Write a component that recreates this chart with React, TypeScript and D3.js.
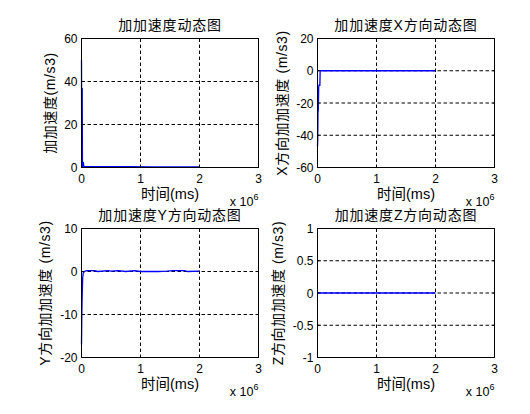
import * as d3 from 'd3';

// time axis is in units of 1e6 ms
const timeTicks = [0, 1, 2, 3];

// total jerk
const jerkT = [0, 0.004, 0.012, 0.016, 0.022, 0.03, 0.04, 0.3, 0.8, 1.2, 1.6, 2.0];
const jerkV = [50, 0, 37, 0, 2.5, 2.4, 0.5, 0.4, 0.35, 0.3, 0.3, 0.3];
const jerkTicks = [0, 20, 40, 60];

// x direction
const jerkXT = [0, 0.004, 0.008, 0.014, 0.02, 0.026, 0.04, 0.045, 1.0, 2.0];
const jerkXV = [-47, -42, -26, -24, -10, -9, -9, 0, 0, 0];
const jerkXTicks = [-60, -40, -20, 0, 20];

// y direction
const jerkYT = [0, 0.004, 0.01, 0.02, 0.03, 0.06, 0.1, 0.22, 0.28, 0.45, 0.5, 0.62, 0.75, 0.9, 1.0, 1.3, 1.45, 1.55, 1.75, 1.8, 2.0];
const jerkYV = [-17, -12, -6.5, -1.5, -0.3, 0.1, 0.2, 0.2, 0.0, 0.2, 0.1, 0.2, 0.0, 0.2, 0.0, 0.0, 0.1, 0.2, 0.2, 0.0, 0.1];
const jerkYTicks = [-20, -10, 0, 10];

// z direction
const jerkZT = [0, 1.0, 2.0];
const jerkZV = [0, 0, 0];
const jerkZTicks = [-1, -0.5, 0, 0.5, 1];

const W = 177;
const H = 129;
const FONT = "'Liberation Sans', Arial, 'Noto Sans CJK SC', sans-serif";

interface PanelProps {
  left: number;
  top: number;
  title: string;
  ylabel: string;
  yOffset: number;
  t: number[];
  v: number[];
  yTicks: number[];
}

function Panel({ left, top, title, ylabel, yOffset, t, v, yTicks }: PanelProps) {
  const x = d3.scaleLinear().domain([0, 3]).range([0, W]);
  const y = d3
    .scaleLinear()
    .domain([yTicks[0], yTicks[yTicks.length - 1]])
    .range([H, 0]);
  const pts: [number, number][] = t.map((d, i) => [d, v[i]]);
  const line = d3
    .line<[number, number]>()
    .x(d => x(d[0]))
    .y(d => y(d[1]));

  return (
    <g transform={`translate(${left},${top})`} fontFamily={FONT}>
      <rect x={0} y={0} width={W} height={H} fill="#fff" />
      {timeTicks.slice(1, -1).map(d => (
        <line key={'gx' + d} x1={x(d)} x2={x(d)} y1={0} y2={H} stroke="#000" strokeWidth={1} strokeDasharray="3.5,2.5" />
      ))}
      {yTicks.slice(1, -1).map(d => (
        <line key={'gy' + d} x1={0} x2={W} y1={y(d)} y2={y(d)} stroke="#000" strokeWidth={1} strokeDasharray="3.5,2.5" />
      ))}
      <path d={line(pts) || ''} fill="none" stroke="#0000ff" strokeWidth={1.3} />
      <rect x={0} y={0} width={W} height={H} fill="none" stroke="#000" strokeWidth={1} />
      {timeTicks.map(d => (
        <g key={'tx' + d}>
          <line x1={x(d)} x2={x(d)} y1={H} y2={H - 2} stroke="#000" />
          <line x1={x(d)} x2={x(d)} y1={0} y2={2} stroke="#000" />
          <text x={x(d)} y={H + 15} textAnchor="middle" fontSize={12}>{d}</text>
        </g>
      ))}
      {yTicks.map(d => (
        <g key={'ty' + d}>
          <line x1={0} x2={2} y1={y(d)} y2={y(d)} stroke="#000" />
          <line x1={W} x2={W - 2} y1={y(d)} y2={y(d)} stroke="#000" />
          <text x={-4} y={y(d) + 4.5} textAnchor="end" fontSize={12}>{d}</text>
        </g>
      ))}
      <text x={W / 2} y={-9} textAnchor="middle" fontSize={14} letterSpacing={0.8}>{title}</text>
      <text x={W / 2} y={H + 31} textAnchor="middle" fontSize={14.5}>时间(ms)</text>
      <text x={W} y={H + 38} textAnchor="end" fontSize={12.5}>
        x 10<tspan dy={-6} fontSize={9}>6</tspan>
      </text>
      <text
        transform={`translate(${yOffset},${H / 2}) rotate(-90)`}
        textAnchor="middle"
        fontSize={14}
        letterSpacing={0.6}
      >
        {ylabel}
      </text>
    </g>
  );
}

export default function App() {
  return (
    <svg
      width={530}
      height={414}
      style={{ position: 'absolute', left: 0, top: 0, background: '#fff' }}
    >
      <rect width={530} height={414} fill="#fff" />
      <Panel left={81.5} top={38.5} title="加加速度动态图" ylabel="加加速度(m/s3)" yOffset={-27} t={jerkT} v={jerkV} yTicks={jerkTicks} />
      <Panel left={317.5} top={38.5} title="加加速度X方向动态图" ylabel="X方向加加速度 (m/s3)" yOffset={-31} t={jerkXT} v={jerkXV} yTicks={jerkXTicks} />
      <Panel left={81.5} top={228.5} title="加加速度Y方向动态图" ylabel="Y方向加加速度 (m/s3)" yOffset={-32} t={jerkYT} v={jerkYV} yTicks={jerkYTicks} />
      <Panel left={317.5} top={228.5} title="加加速度Z方向动态图" ylabel="Z方向加加速度 (m/s3)" yOffset={-35} t={jerkZT} v={jerkZV} yTicks={jerkZTicks} />
    </svg>
  );
}
